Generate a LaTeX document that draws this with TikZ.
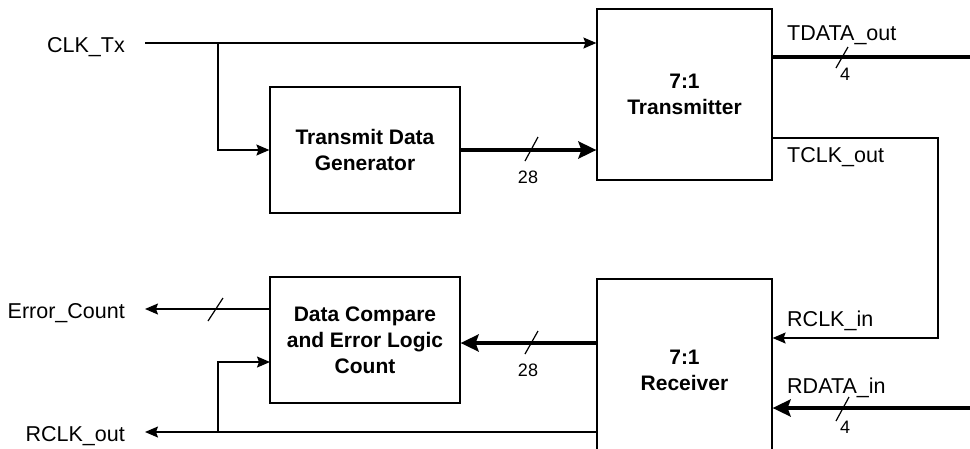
\documentclass[tikz,border=0pt]{standalone}
\usepackage{fontspec}
\setmainfont{Liberation Sans}
\usetikzlibrary{arrows.meta}

\begin{document}
\begin{tikzpicture}[x=1pt,y=-1pt,
  block/.style={draw, line width=1.2pt, inner sep=0pt, align=center,
    font=\fontsize{21}{26}\selectfont\bfseries},
  sig/.style={line width=1.5pt},
  bus/.style={line width=4pt},
  thinarrow/.style={sig, -{Stealth[length=13pt,width=11pt,inset=2pt]}},
  busarrow/.style={bus, -{Stealth[length=18pt,width=17pt,inset=3pt]}},
  lbl/.style={inner sep=0pt, font=\fontsize{21.5}{26}\selectfont},
  num/.style={inner sep=0pt, font=\fontsize{18}{20}\selectfont},
  tick/.style={line width=1.2pt}
]
\useasboundingbox (0,0) rectangle (970,448);

% blocks
\node[block, minimum width=175pt, minimum height=171pt] (tx) at (684.5,94.5) {7:1\\Transmitter};
\node[block, minimum width=190pt, minimum height=126pt] (tdg) at (365,150) {Transmit Data\\Generator};
\node[block, minimum width=190pt, minimum height=126pt] (dcel) at (365,340) {Data Compare\\and Error Logic\\Count};
\node[block, minimum width=175pt, minimum height=182pt] (rx) at (684.5,370) {7:1\\Receiver};

% port coordinates
\coordinate (clkin) at (145,43);
\coordinate (clkbr) at (218,43);
\coordinate (tdataend) at (970,57);
\coordinate (tclkturn) at (938,138);
\coordinate (rclkin) at (938,338);
\coordinate (rdatastart) at (970,408);
\coordinate (rxbus) at (597,343);
\coordinate (errend) at (145,309);
\coordinate (rclkoutend) at (145,432);
\coordinate (rclkbr) at (218,432);
\coordinate (dclk) at (270,362);

% signal names
\node[lbl, anchor=base east] (lclk) at (125,52) {CLK\_Tx};
\node[lbl, anchor=base east] (lerr) at (125,318) {Error\_Count};
\node[lbl, anchor=base east] (lrclko) at (125,441) {RCLK\_out};
\node[lbl, anchor=base west] (ltdata) at (787,40) {TDATA\_out};
\node[lbl, anchor=base west] (ltclk) at (787,162) {TCLK\_out};
\node[lbl, anchor=base west] (lrclki) at (787,326) {RCLK\_in};
\node[lbl, anchor=base west] (lrdata) at (787,393) {RDATA\_in};

% transmit side
\draw[thinarrow] (clkin) -- (tx.west |- clkin);
\draw[thinarrow] (clkbr) |- (tdg.west);
\draw[busarrow] (tdg.east) -- (tx.west |- tdg.east);
\draw[bus] (tx.east |- tdataend) -- (tdataend);
\draw[thinarrow] (tx.east |- tclkturn) -- (tclkturn) -- (rclkin) -- (rx.east |- rclkin);

% receive side
\draw[busarrow] (rdatastart) -- (rx.east |- rdatastart);
\draw[busarrow] (rxbus) -- (dcel.east |- rxbus);
\draw[thinarrow] (dcel.west |- errend) -- (errend);
\draw[thinarrow] (rx.west |- rclkoutend) -- (rclkoutend);
\draw[thinarrow] (rclkbr) |- (dclk);

% bus width marks
\draw[tick] (538,137) -- (525,161);
\node[num, anchor=base] (n28a) at (528,183) {28};
\draw[tick] (848,47) -- (836,68);
\node[num, anchor=base] (n4a) at (845,80) {4};
\draw[tick] (223,298) -- (208,321);
\draw[tick] (538,331) -- (525,354);
\node[num, anchor=base] (n28b) at (528,376) {28};
\draw[tick] (849,397) -- (836,421);
\node[num, anchor=base] (n4b) at (845,433) {4};
\end{tikzpicture}
\end{document}
